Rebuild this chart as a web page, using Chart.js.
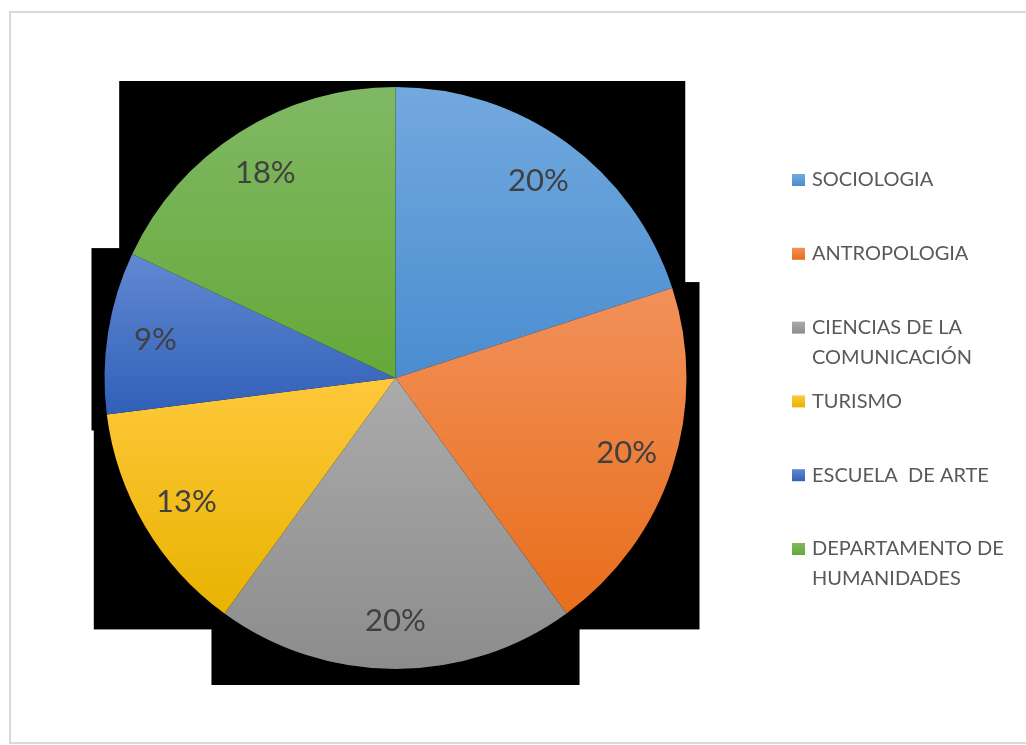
<!DOCTYPE html>
<html>
<head>
<meta charset="utf-8">
<script src="https://cdn.jsdelivr.net/npm/chart.js@4.4.1/dist/chart.umd.min.js"></script>
<style>
  html, body { margin: 0; padding: 0; background: #fff; }
  #wrap { position: relative; width: 1026px; height: 745px; }
</style>
</head>
<body>
<div id="wrap"><canvas id="myChart" width="1026" height="745"></canvas></div>
<script>
  const categories = [
    'SOCIOLOGIA',
    'ANTROPOLOGIA',
    ['CIENCIAS DE LA', 'COMUNICACIÓN'],
    'TURISMO',
    'ESCUELA  DE ARTE',
    ['DEPARTAMENTO DE', 'HUMANIDADES']
  ];
  const percents = [20, 20, 20, 13, 9, 18];

  // slice fills: [top, bottom] of each slice's gradient
  const palette = [
    ['#72a9de', '#4a8dd0'],
    ['#f2915a', '#e86e1b'],
    ['#ababab', '#8c8c8c'],
    ['#ffc83c', '#e8b300'],
    ['#6189d2', '#3160b9'],
    ['#80b964', '#66a839']
  ];
  const baseColors = ['#5b9bd5', '#ed7d31', '#a5a5a5', '#ffc000', '#4472c4', '#70ad47'];

  const FONT = 'Lato, "Open Sans", sans-serif';

  // bounding box of a pie sector (center included), angles in canvas radians
  const sectorBounds = (cx, cy, r, a0, a1) => {
    const xs = [cx, cx + r * Math.cos(a0), cx + r * Math.cos(a1)];
    const ys = [cy, cy + r * Math.sin(a0), cy + r * Math.sin(a1)];
    const q = Math.PI / 2;
    for (let k = Math.ceil(a0 / q); k * q <= a1; k++) {
      xs.push(cx + r * Math.cos(k * q));
      ys.push(cy + r * Math.sin(k * q));
    }
    return {
      left: Math.min(...xs), right: Math.max(...xs),
      top: Math.min(...ys), bottom: Math.max(...ys)
    };
  };

  const sliceGradient = (context) => {
    const chart = context.chart;
    const i = context.dataIndex;
    const area = chart.chartArea;
    if (!area || i === undefined) return baseColors[i] || '#999';
    const total = percents.reduce((a, b) => a + b, 0);
    let before = 0;
    for (let j = 0; j < i; j++) before += percents[j];
    const a0 = -Math.PI / 2 + 2 * Math.PI * before / total;
    const a1 = a0 + 2 * Math.PI * percents[i] / total;
    const cx = (area.left + area.right) / 2;
    const cy = (area.top + area.bottom) / 2;
    const r = Math.min(area.width, area.height) / 2;
    const b = sectorBounds(cx, cy, r, a0, a1);
    const g = chart.ctx.createLinearGradient(0, b.top, 0, b.bottom);
    g.addColorStop(0, palette[i][0]);
    g.addColorStop(1, palette[i][1]);
    return g;
  };

  // frame line and the dark boxes behind every slice
  const backdrop = {
    id: 'backdrop',
    beforeDraw(chart) {
      const c = chart.ctx;
      c.save();
      c.strokeStyle = '#d9d9d9';
      c.lineWidth = 2;
      c.strokeRect(10, 12, 1040, 731);
      c.restore();
    },
    beforeDatasetsDraw(chart) {
      const c = chart.ctx;
      const pad = { l: 13, r: 13, t: 6, b: 16 };
      c.save();
      c.fillStyle = '#000';
      chart.getDatasetMeta(0).data.forEach((arc) => {
        const p = arc.getProps(['x', 'y', 'startAngle', 'endAngle', 'outerRadius']);
        const b = sectorBounds(p.x, p.y, p.outerRadius, p.startAngle, p.endAngle);
        c.fillRect(b.left - pad.l, b.top - pad.t,
          b.right - b.left + pad.l + pad.r, b.bottom - b.top + pad.t + pad.b);
      });
      c.restore();
    }
  };

  // percentage labels inside the slices
  const sliceLabels = {
    id: 'sliceLabels',
    afterDatasetsDraw(chart) {
      const c = chart.ctx;
      c.save();
      c.font = '31px ' + FONT;
      c.fillStyle = '#404040';
      c.textAlign = 'center';
      c.textBaseline = 'middle';
      chart.getDatasetMeta(0).data.forEach((arc, i) => {
        const p = arc.getProps(['x', 'y', 'startAngle', 'endAngle', 'outerRadius']);
        const mid = (p.startAngle + p.endAngle) / 2;
        const rr = p.outerRadius * 0.835;
        c.fillText(percents[i] + '%', p.x + rr * Math.cos(mid), p.y + rr * Math.sin(mid));
      });
      c.restore();
    }
  };

  // legend on the right, one entry every 74px, wrapped names on a second line
  const sideLegend = {
    id: 'sideLegend',
    afterDraw(chart) {
      const c = chart.ctx;
      const x0 = chart.chartArea.right + 105;
      const y0 = 180;
      const step = 73.8;
      const lineH = 29.5;
      c.save();
      c.font = '20px ' + FONT;
      c.textBaseline = 'middle';
      c.textAlign = 'left';
      chart.data.labels.forEach((label, i) => {
        const y = y0 + i * step;
        const g = c.createLinearGradient(0, y - 6, 0, y + 6);
        g.addColorStop(0, palette[i][0]);
        g.addColorStop(1, palette[i][1]);
        c.fillStyle = g;
        c.fillRect(x0, y - 6, 13, 12);
        c.fillStyle = '#595959';
        const lines = Array.isArray(label) ? label : [label];
        lines.forEach((t, k) => c.fillText(t, x0 + 20, y + k * lineH));
      });
      c.restore();
    }
  };

  const ctx = document.getElementById('myChart');
  new Chart(ctx, {
    type: 'pie',
    data: {
      labels: categories,
      datasets: [{
        data: percents,
        backgroundColor: sliceGradient,
        borderWidth: 0
      }]
    },
    options: {
      responsive: false,
      animation: false,
      layout: { padding: { left: 104, right: 339, top: 87, bottom: 76 } },
      plugins: {
        legend: { display: false },
        tooltip: { enabled: false }
      }
    },
    plugins: [backdrop, sliceLabels, sideLegend]
  });
</script>
</body>
</html>
